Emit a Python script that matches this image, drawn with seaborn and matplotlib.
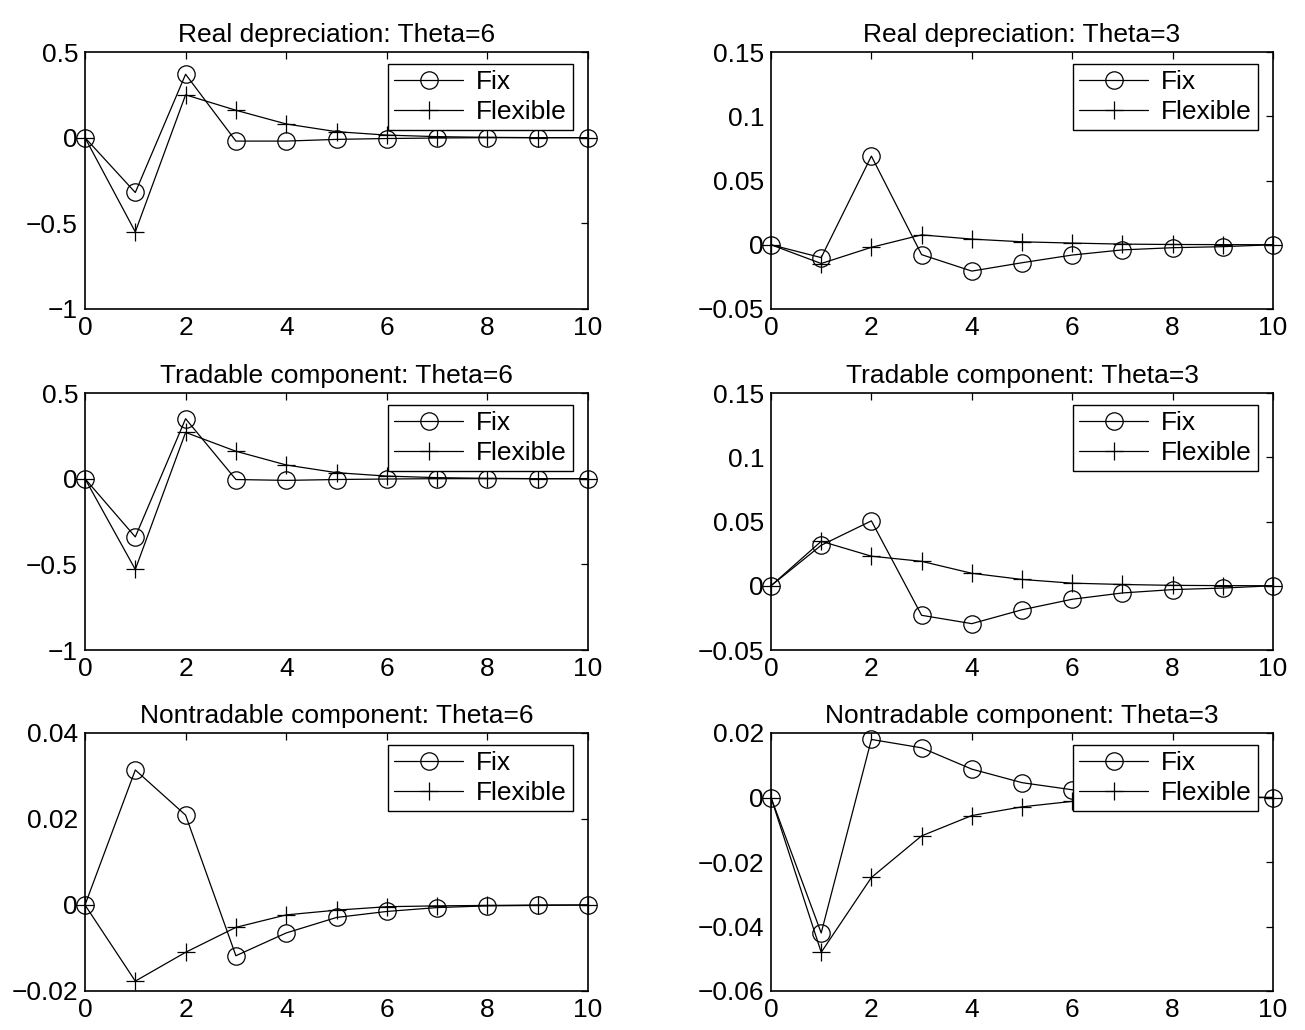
import numpy as np
import pandas as pd
import matplotlib
matplotlib.use("Agg")
import matplotlib.pyplot as plt
import seaborn as sns
from matplotlib.ticker import FuncFormatter

periods = list(range(11))

titles = ["Real depreciation: Theta=6", "Real depreciation: Theta=3",
          "Tradable component: Theta=6", "Tradable component: Theta=3",
          "Nontradable component: Theta=6", "Nontradable component: Theta=3"]

real6_fix = [0, -0.32, 0.37, -0.02, -0.02, -0.01, -0.005, -0.002, 0, 0, 0]
real6_flex = [0, -0.55, 0.25, 0.16, 0.08, 0.035, 0.015, 0.006, 0.002, 0, 0]
real3_fix = [0, -0.010, 0.069, -0.0077, -0.0205, -0.014, -0.008, -0.004, -0.0023, -0.0015, 0]
real3_flex = [0, -0.0146, -0.002, 0.0077, 0.0044, 0.0023, 0.0013, 0.0005, 0.0002, 0.0001, 0]
trad6_fix = [0, -0.34, 0.35, -0.005, -0.01, -0.005, -0.002, 0, 0, 0, 0]
trad6_flex = [0, -0.53, 0.27, 0.16, 0.08, 0.035, 0.015, 0.006, 0.002, 0, 0]
trad3_fix = [0, 0.0315, 0.0505, -0.023, -0.0295, -0.0187, -0.0105, -0.0056, -0.003, -0.0018, 0]
trad3_flex = [0, 0.0346, 0.023, 0.019, 0.0097, 0.0049, 0.002, 0.001, 0.0003, 0.0001, 0]
nont6_fix = [0, 0.0314, 0.0209, -0.0118, -0.0065, -0.0029, -0.0015, -0.0006, -0.0002, -0.0001, 0]
nont6_flex = [0, -0.0177, -0.011, -0.0052, -0.0023, -0.0012, -0.0004, -0.0002, -0.0001, 0, 0]
nont3_fix = [0, -0.042, 0.018, 0.0154, 0.0088, 0.0046, 0.0024, 0.0012, 0.0006, 0.0003, 0]
nont3_flex = [0, -0.048, -0.0248, -0.0119, -0.0056, -0.0029, -0.0012, -0.0005, -0.0002, -0.0001, 0]

series = [(real6_fix, real6_flex), (real3_fix, real3_flex),
          (trad6_fix, trad6_flex), (trad3_fix, trad3_flex),
          (nont6_fix, nont6_flex), (nont3_fix, nont3_flex)]

yticks = [[-1, -0.5, 0, 0.5], [-0.05, 0, 0.05, 0.1, 0.15],
          [-1, -0.5, 0, 0.5], [-0.05, 0, 0.05, 0.1, 0.15],
          [-0.02, 0, 0.02, 0.04], [-0.06, -0.04, -0.02, 0, 0.02]]
xticks = [0, 2, 4, 6, 8, 10]

sns.set_style("white")
plt.rcParams['font.family'] = ['Liberation Sans', 'DejaVu Sans']
plt.rcParams['axes.unicode_minus'] = True
plt.rcParams['text.color'] = 'black'
plt.rcParams['axes.labelcolor'] = 'black'
plt.rcParams['xtick.color'] = 'black'
plt.rcParams['ytick.color'] = 'black'

FS = 19

fig = plt.figure(figsize=(13.05, 10.30), dpi=100)

lefts = [85 / 1305, 771 / 1305]
widths = [503 / 1305, 502 / 1305]
tops = [52, 393, 733]
bottoms = [309, 650, 991]

fmt = FuncFormatter(lambda v, p: ("%g" % v).replace("-", "\u2212"))

for i, (fix, flex) in enumerate(series):
    r, c = divmod(i, 2)
    h = bottoms[r] - tops[r]
    ax = fig.add_axes([lefts[c], 1 - bottoms[r] / 1030, widths[c], h / 1030])
    df = pd.DataFrame({"t": periods, "Fix": fix, "Flexible": flex})
    sns.lineplot(data=df, x="t", y="Fix", ax=ax, color="black", lw=0.9,
                 marker="o", markersize=12.5, markerfacecolor="none",
                 markeredgecolor="black", markeredgewidth=0.9, label="Fix", clip_on=False)
    sns.lineplot(data=df, x="t", y="Flexible", ax=ax, color="black", lw=0.9,
                 marker="+", markersize=13, markeredgewidth=0.9,
                 markeredgecolor="black", label="Flexible", clip_on=False)
    ax.set_xlim(0, 10)
    ax.set_ylim(yticks[i][0], yticks[i][-1])
    ax.set_xticks(xticks)
    ax.set_yticks(yticks[i])
    ax.yaxis.set_major_formatter(fmt)
    ax.set_xlabel("")
    ax.set_ylabel("")
    ax.set_title(titles[i], fontsize=FS, pad=7, color="black")
    ax.tick_params(direction="in", length=5, width=0.9, top=True, right=True,
                   labelsize=FS, pad=5, colors="black")
    for s in ax.spines.values():
        s.set_linewidth(1.2)
        s.set_color("black")
    wpx = widths[c] * 1305
    leg = ax.legend(loc="upper right", bbox_to_anchor=(1 - 15 / wpx, 1 - 12 / h),
                    fontsize=FS, frameon=True, fancybox=False,
                    edgecolor="black", framealpha=1, borderpad=0.23, labelspacing=0.23,
                    handlelength=2.6, handletextpad=0.5, borderaxespad=0.0)
    for t in leg.get_texts():
        t.set_color("black")
    leg.get_frame().set_linewidth(1.0)
    leg.set_zorder(10)

fig.savefig("out.png", dpi=100, facecolor="white")
